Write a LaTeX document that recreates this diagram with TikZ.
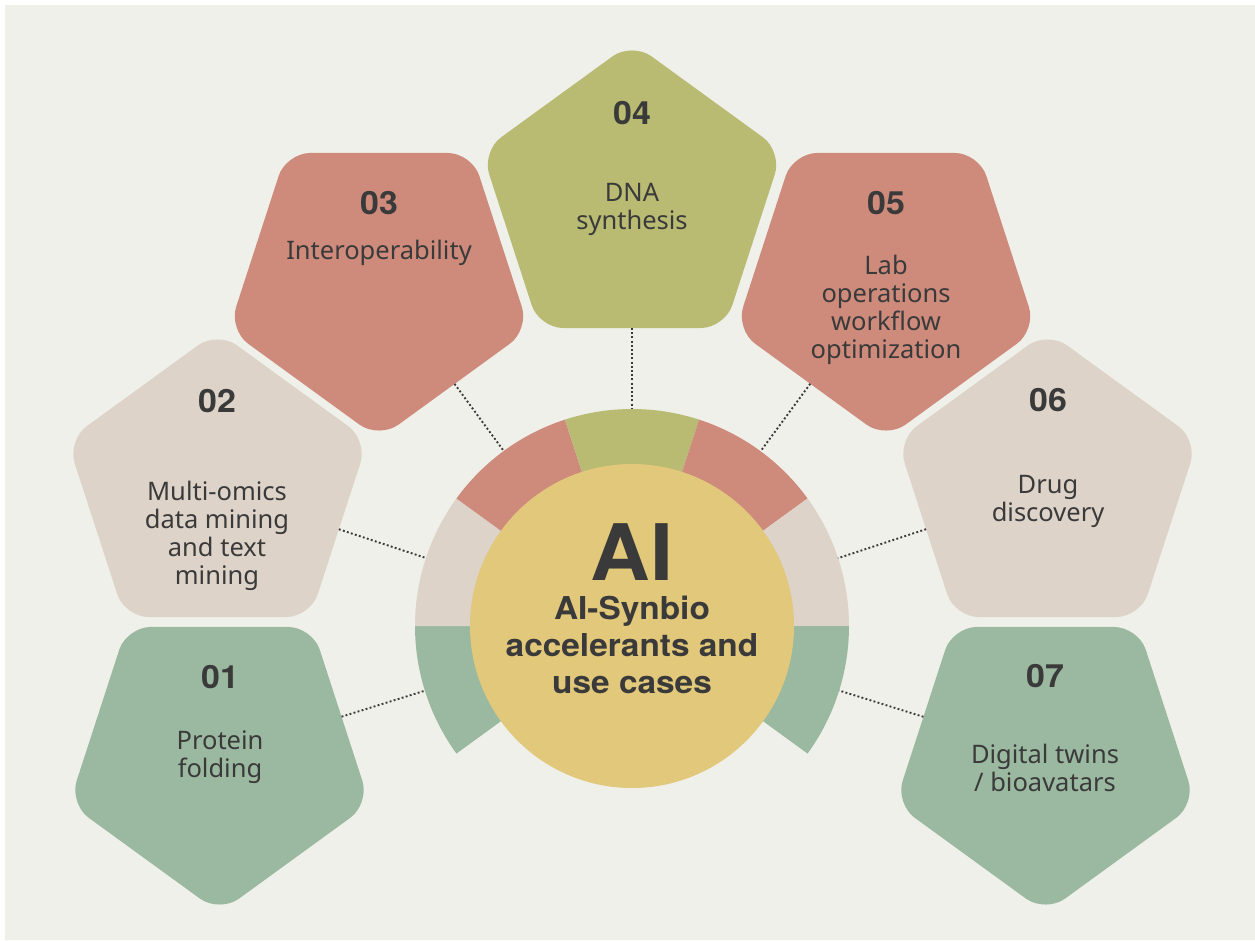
\documentclass[tikz,border=0pt]{standalone}
\usepackage{fontspec}
\setmainfont{Noto Sans}
\newfontfamily\hbold{TeX Gyre Heros}[FakeStretch=1.06]
\usetikzlibrary{shapes.geometric,calc}
\definecolor{bgc}{HTML}{EFF0EA}
\definecolor{grn}{HTML}{9BB9A0}
\definecolor{bge}{HTML}{DDD3C9}
\definecolor{red}{HTML}{CE8B7C}
\definecolor{olv}{HTML}{B9BB73}
\definecolor{ylw}{HTML}{E1C87A}
\definecolor{txt}{HTML}{3A3A3A}
\definecolor{dotc}{HTML}{3A3A3A}
\tikzset{
  pent/.style={regular polygon, regular polygon sides=5, minimum size=316pt,
    inner sep=0pt, outer sep=0pt, rounded corners=24pt, draw=none},
  pdown/.style={pent, shape border rotate=180},
  numtxt/.style={font=\hbold\bfseries\fontsize{32}{36}\selectfont, text=txt, inner sep=0pt},
  lbltxt/.style={font=\fontsize{25.5}{28}\selectfont, text=txt, align=center, inner sep=0pt},
  dotline/.style={draw=dotc, line width=1.9pt, dash pattern=on 1.9pt off 2.3pt},
}
\begin{document}
\begin{tikzpicture}[x=1pt,y=-1pt]
\useasboundingbox (0,0) rectangle (1255,940);
\fill[white] (0,0) rectangle (1255,940);
\fill[bgc] (5,5) rectangle (1255,940);

% ring segments
\coordinate (c) at (632,626);
\fill[grn] (c) -- ++(-180:217) arc[start angle=-180, end angle=-216, radius=217] -- cycle;
\fill[bge] (c) -- ++(-144:217) arc[start angle=-144, end angle=-180, radius=217] -- cycle;
\fill[red] (c) -- ++(-108:217) arc[start angle=-108, end angle=-144, radius=217] -- cycle;
\fill[olv] (c) -- ++(-72:217) arc[start angle=-72, end angle=-108, radius=217] -- cycle;
\fill[red] (c) -- ++(-36:217) arc[start angle=-36, end angle=-72, radius=217] -- cycle;
\fill[bge] (c) -- ++(0:217) arc[start angle=0, end angle=-36, radius=217] -- cycle;
\fill[grn] (c) -- ++(36:217) arc[start angle=36, end angle=0, radius=217] -- cycle;
\node[circle, fill=ylw, minimum size=324pt, inner sep=0pt, outer sep=0pt] (core) at (c) {};

% pentagons
\node[pdown, fill=grn] (p1) at (219.5,754.8) {};
\node[pent,  fill=bge] (p2) at (217.5,489.2) {};
\node[pdown, fill=red] (p3) at (379,280.8) {};
\node[pent,  fill=olv] (p4) at (632,200.2) {};
\node[pdown, fill=red] (p5) at (886,280.8) {};
\node[pent,  fill=bge] (p6) at (1047.5,489.2) {};
\node[pdown, fill=grn] (p7) at (1045.5,754.8) {};

% connectors
\foreach \i in {1,...,7}{
  \coordinate (r\i) at ($(c)!217pt!(p\i.center)$);
  \draw[dotline] (p\i) -- (r\i);
}

% texts
\node[numtxt] (n1) at (220,677.5) {01};
\node[lbltxt] (t1) at (220,757) {Protein\\folding};
\node[numtxt] (n2) at (217,401) {02};
\node[lbltxt] (t2) at (217,535.5) {Multi-omics\\data mining\\and text\\mining};
\node[numtxt] (n3) at (379,203.5) {03};
\node[lbltxt] (t3) at (379,253) {Interoperability};
\node[numtxt] (n4) at (632,113.5) {04};
\node[lbltxt] (t4) at (632,209) {DNA\\synthesis};
\node[numtxt] (n5) at (886,203.5) {05};
\node[lbltxt] (t5) at (886,309.5) {Lab\\operations\\workflow\\optimization};
\node[numtxt] (n6) at (1048,400.5) {06};
\node[lbltxt] (t6) at (1048,501) {Drug\\discovery};
\node[numtxt] (n7) at (1045,676.5) {07};
\node[lbltxt] (t7) at (1045,767.5) {Digital twins\\/ bioavatars};

\node[font=\hbold\bfseries\fontsize{78}{80}\selectfont, text=txt, inner sep=0pt] (ai) at (632,552.5) {AI};
\node[font=\hbold\bfseries\fontsize{31.5}{37}\selectfont, text=txt, align=center, inner sep=0pt] (sub) at (632,645) {AI-Synbio\\accelerants and\\use cases};
\end{tikzpicture}
\end{document}
